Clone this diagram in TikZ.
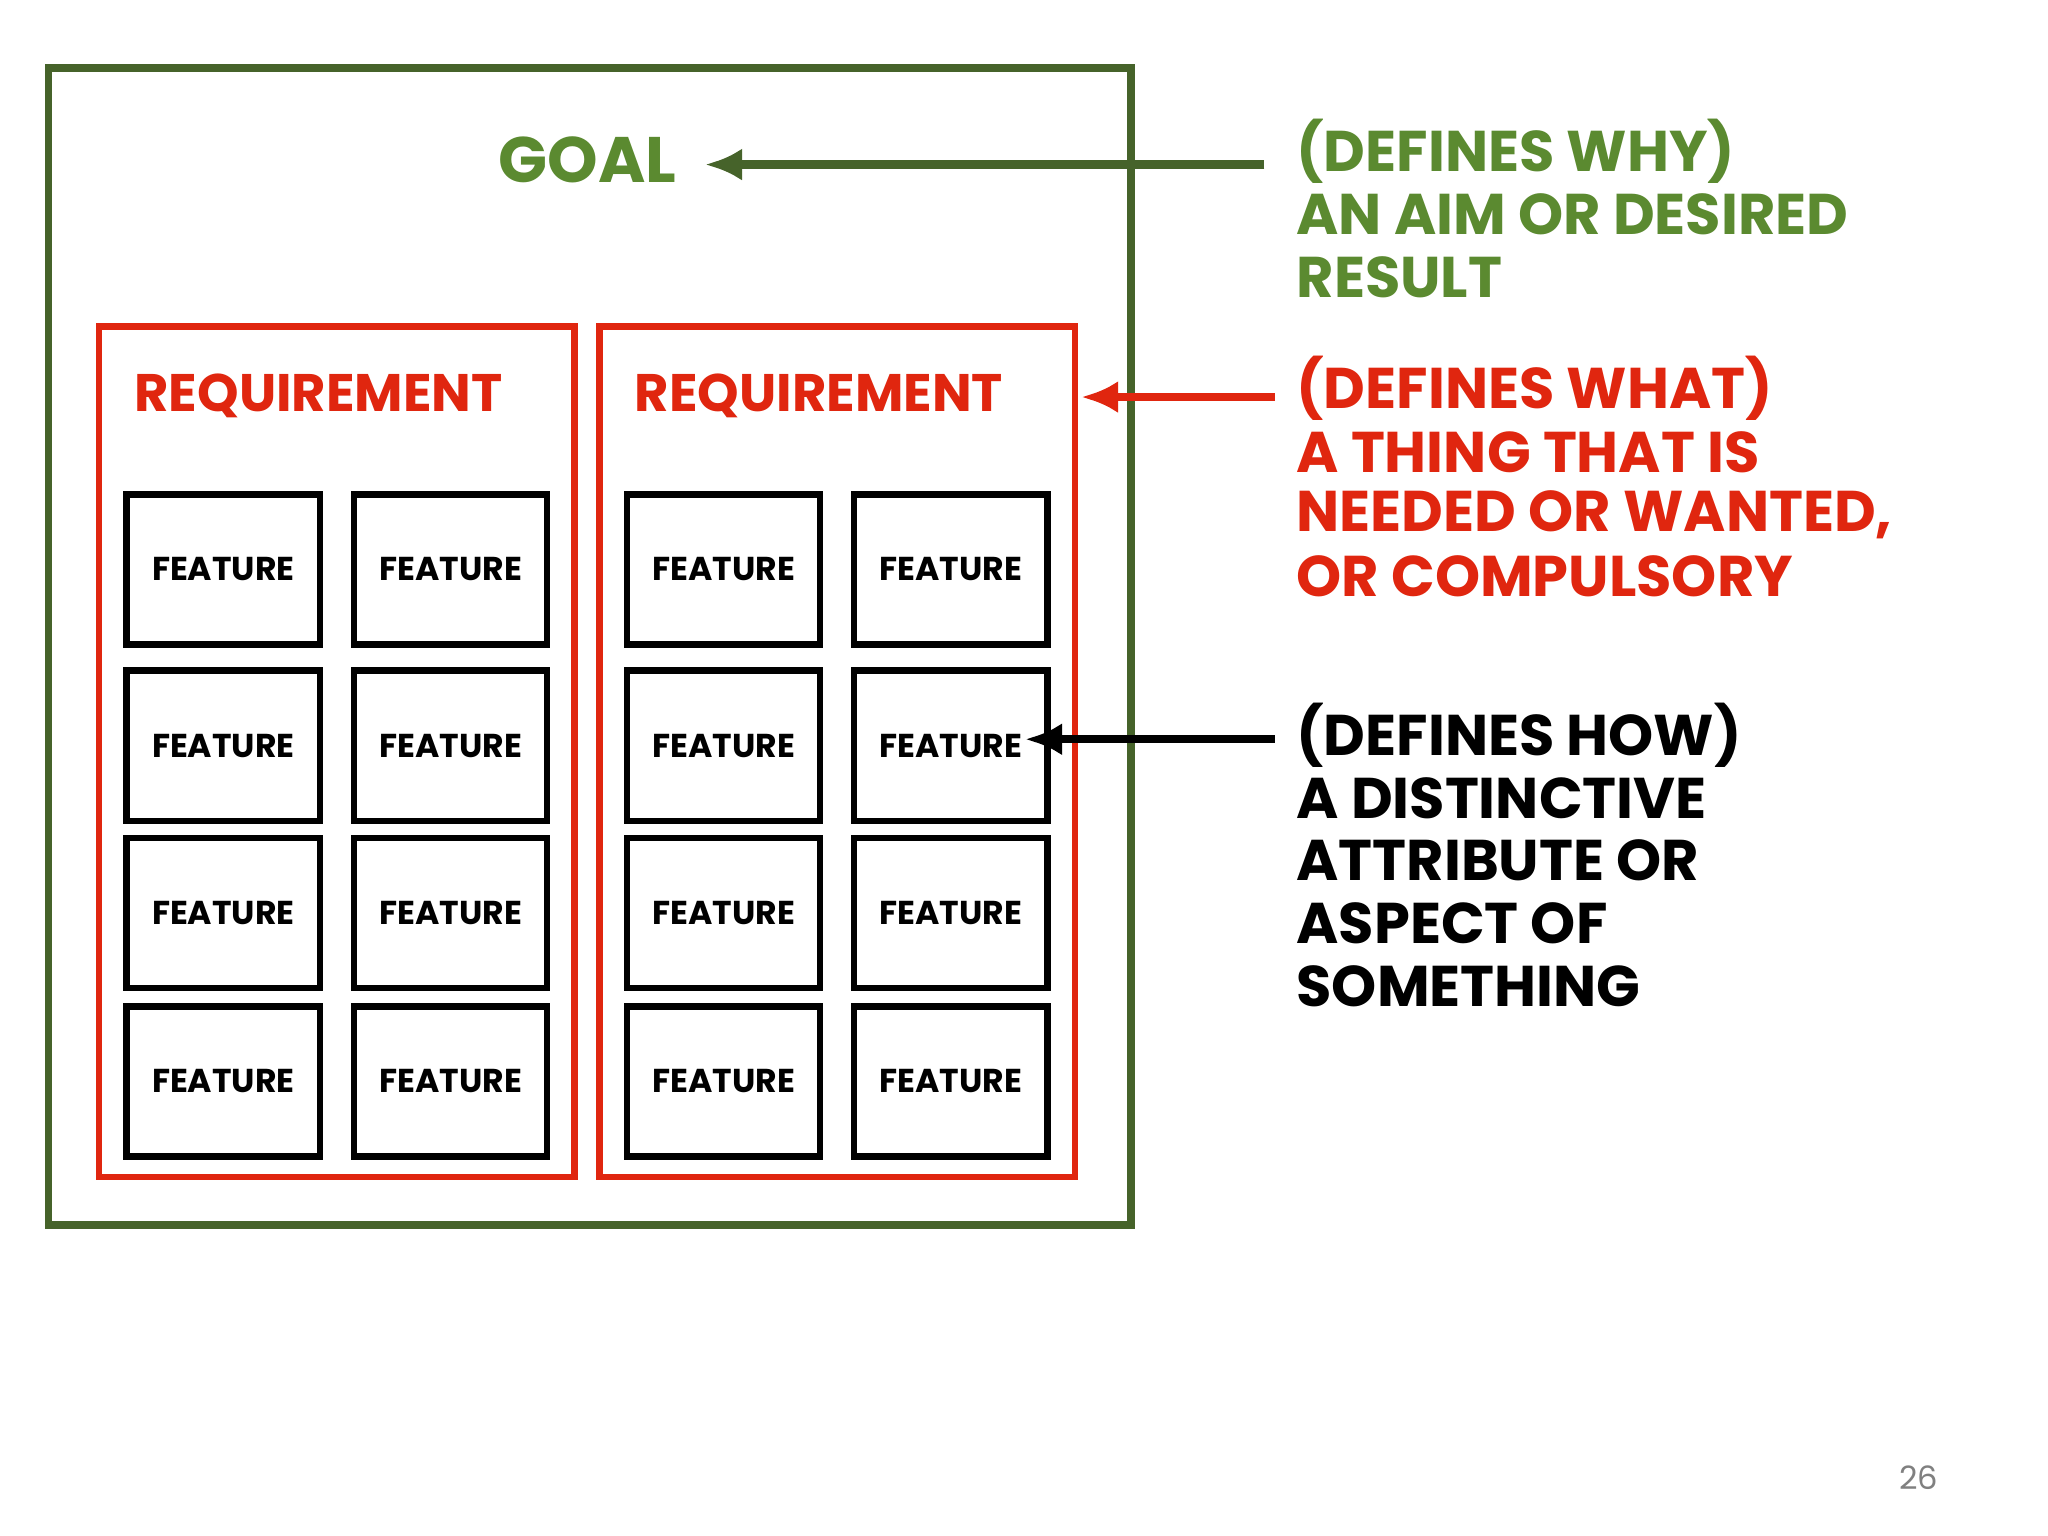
\documentclass[tikz,border=0pt]{standalone}
\usepackage{fontspec}
\setmainfont{Poppins}
\usetikzlibrary{arrows.meta}
\definecolor{gbox}{HTML}{46632A}
\definecolor{gtxt}{HTML}{5B8A30}
\definecolor{rd}{HTML}{E0260F}
\begin{document}
\begin{tikzpicture}[x=0.01cm,y=-0.01cm,
 feat/.style={draw=black,line width=1.4pt,minimum width=148*0.01cm,minimum height=115*0.01cm,font=\bfseries\fontsize{7.2}{9}\selectfont,inner sep=0},
 rl/.style={anchor=west,font=\bfseries\fontsize{12.5}{14}\selectfont,inner sep=0},
 req/.style={text=rd,font=\bfseries\fontsize{11.5}{14}\selectfont},
 arr/.style={-{Latex[length=8pt,width=7pt]},line width=1.8pt}]
\useasboundingbox (0,0) rectangle (1568,1176);
\fill[white] (0,0) rectangle (1568,1176);
\node[draw=gbox,line width=1.6pt,minimum width=829*0.01cm,minimum height=886*0.01cm,inner sep=0] (goalbox) at (451.5,495) {};
\node[text=gtxt,font=\bfseries\fontsize{14}{16}\selectfont] (goal) at (450,122) {GOAL};
\node[draw=rd,line width=1.4pt,minimum width=364*0.01cm,minimum height=651*0.01cm,inner sep=0] (r1) at (258,575.5) {};
\node[draw=rd,line width=1.4pt,minimum width=364*0.01cm,minimum height=651*0.01cm,inner sep=0] (r2) at (641,575.5) {};
\node[req] at (244,303) {REQUIREMENT};
\node[req] (req2) at (627,303) {REQUIREMENT};
\foreach \x/\n in {171/a,345/b,554/c,728/d}{
 \foreach \y/\m in {436/1,571/2,699/3,828/4}{
  \node[feat] (f\n\m) at (\x,\y) {FEATURE};}}
\node[rl,text=gtxt] (t1) at (992,116) {(DEFINES WHY)};
\node[rl,text=gtxt] at (992,164) {AN AIM OR DESIRED};
\node[rl,text=gtxt] at (992,212) {RESULT};
\node[rl,text=rd] (t2) at (992,297) {(DEFINES WHAT)};
\node[rl,text=rd] at (992,346) {A THING THAT IS};
\node[rl,text=rd] at (992,394) {NEEDED OR WANTED,};
\node[rl,text=rd] at (992,441) {OR COMPULSORY};
\node[rl] (t3) at (992,563) {(DEFINES HOW)};
\node[rl] at (992,611) {A DISTINCTIVE};
\node[rl] at (992,659) {ATTRIBUTE OR};
\node[rl] at (992,707) {ASPECT OF};
\node[rl] at (992,755) {SOMETHING};
\coordinate (a1) at (968,126); \coordinate (a1e) at (540,126);
\coordinate (a2) at (976,304); \coordinate (a2e) at (828,304);
\coordinate (a3) at (976,566); \coordinate (a3e) at (785,566);
\draw[arr,draw=gbox] (a1) -- (a1e);
\draw[arr,draw=rd] (a2) -- (a2e);
\draw[arr] (a3) -- (a3e);
\node[text=gray,font=\fontsize{7}{8}\selectfont] at (1469,1131) {26};
\end{tikzpicture}
\end{document}
